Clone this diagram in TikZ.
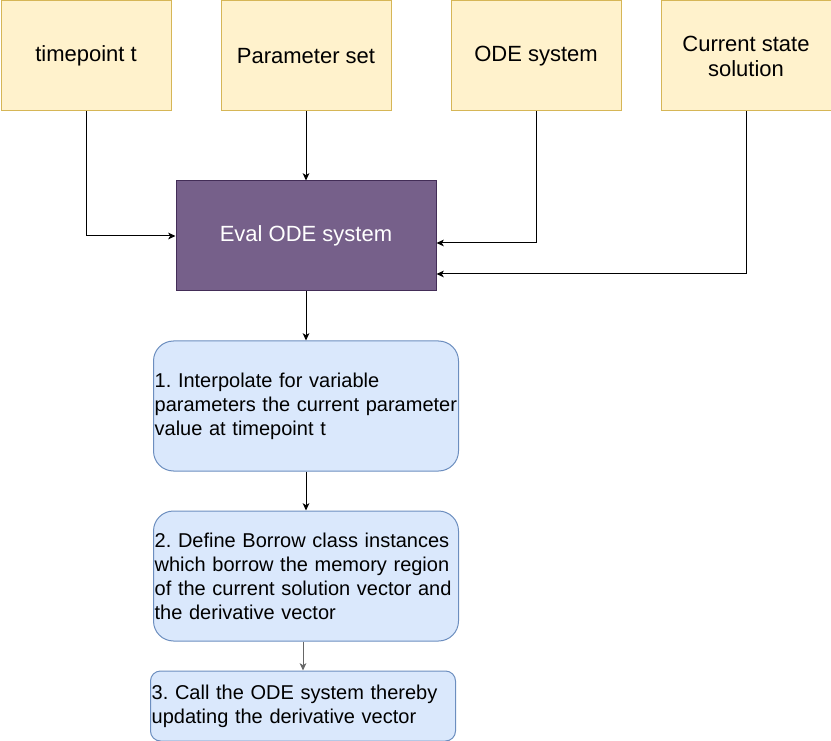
\documentclass[tikz,border=0pt]{standalone}
\usepackage{fontspec}
\setmainfont{Liberation Sans}
\usetikzlibrary{arrows.meta, positioning}
\definecolor{inputfill}{HTML}{FFF2CC}
\definecolor{inputline}{HTML}{D6B656}
\definecolor{evalfill}{HTML}{76608A}
\definecolor{evalline}{HTML}{432D57}
\definecolor{stepfill}{HTML}{DAE8FC}
\definecolor{stepline}{HTML}{6C8EBF}
\definecolor{arrowgray}{HTML}{666666}
\frenchspacing
\hyphenpenalty=10000

\begin{document}
\begin{tikzpicture}[
    node distance=36.75pt and 36.75pt,
    font=\fontsize{16.5pt}{18.75pt}\selectfont,
    input/.style={rectangle, draw=inputline, fill=inputfill, line width=0.75pt, minimum width=127.5pt, minimum height=82.5pt, align=center},
    evalbox/.style={rectangle, draw=evalline, fill=evalfill, line width=0.75pt, minimum width=195pt, minimum height=82.5pt, text=white},
    stepbox/.style={rectangle, rounded corners=#1, draw=stepline, fill=stepfill, line width=0.75pt, minimum width=228.75pt, text width=227pt, align=left, inner xsep=0.875pt, inner ysep=1pt, font=\fontsize{15pt}{18pt}\selectfont},
    arrow/.style={-{Stealth[length=5.5pt, width=5pt, inset=1.5pt]}, line width=0.75pt}
]

\useasboundingbox (0,0) rectangle (623.25pt,-555.75pt);

\node[input, anchor=north west] (timepoint) at (0.375pt,-0.375pt) {timepoint t};
\node[input, right=of timepoint] (params) {Parameter set};
\node[input, right=44.25pt of params] (odesys) {ODE system};
\node[input, right=29.25pt of odesys] (state) {Current state\\solution};

\node[evalbox, below=51.75pt of params] (eval) {Eval ODE system};

\node[stepbox=15pt, minimum height=97.5pt, below=of eval] (interp) {1. Interpolate for variable\\parameters the current parameter\\value at timepoint t};
\node[stepbox=15pt, minimum height=97.5pt, below=29.25pt of interp] (borrow) {2. Define Borrow class instances\\which borrow the memory region\\of the current solution vector and\\the derivative vector};
\node[stepbox=7.5pt, minimum height=52.5pt, below=21.75pt of borrow, xshift=-2.25pt] (call) {3. Call the ODE system thereby\\updating the derivative vector};

\draw[arrow] (timepoint) |- (eval);
\draw[arrow] (params) -- (eval);
\draw[arrow] (odesys) |- ([yshift=-5.25pt]eval.east);
\draw[arrow] (state) |- ([yshift=-28.5pt]eval.east);
\draw[arrow] (eval) -- (eval |- interp.north);
\draw[arrow] (interp) -- (interp |- borrow.north);
\draw[arrow, draw=arrowgray] (call.north |- borrow.south) -- (call);

\end{tikzpicture}
\end{document}
